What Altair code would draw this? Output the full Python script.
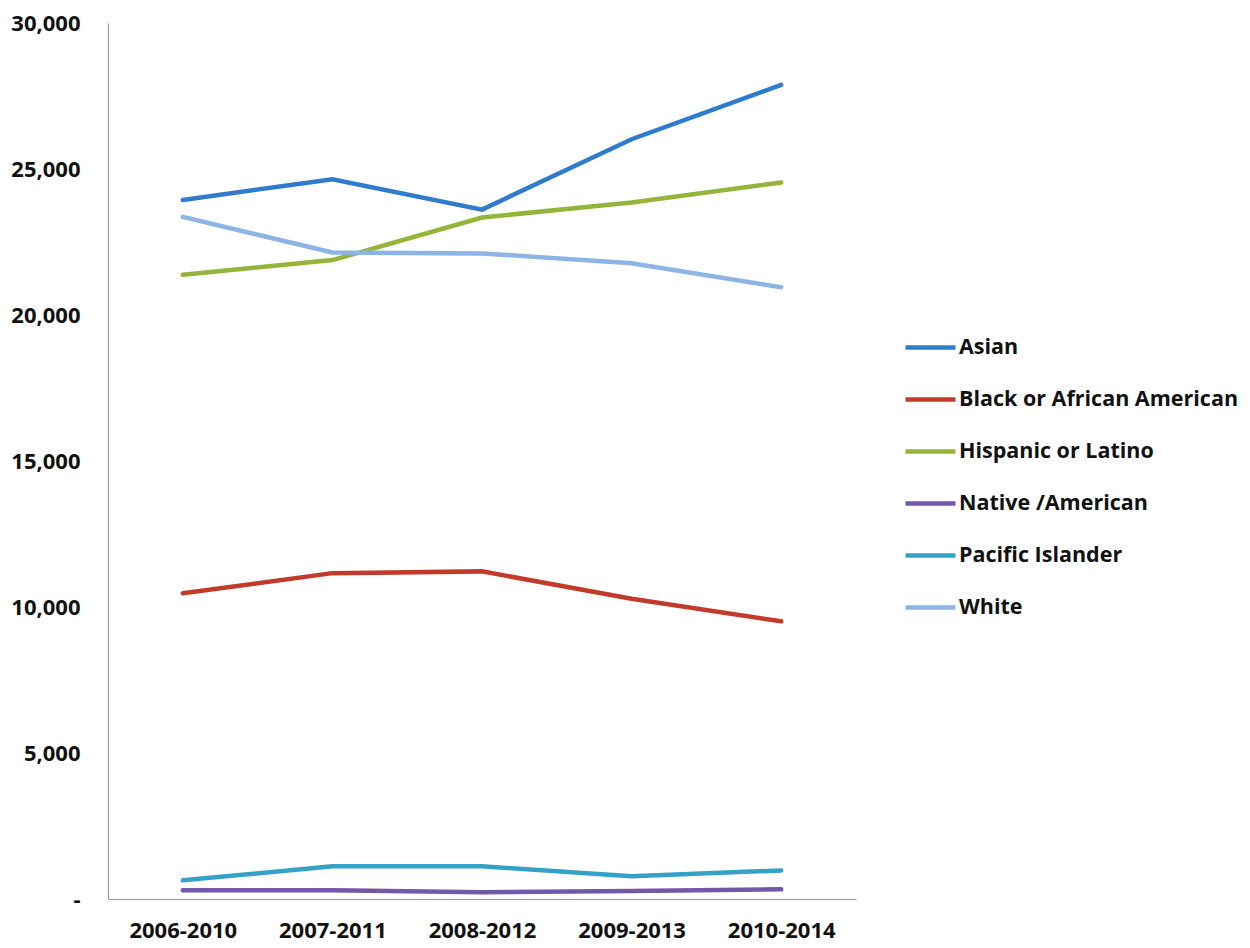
import altair as alt
import pandas as pd

periods = ["2006-2010", "2007-2011", "2008-2012", "2009-2013", "2010-2014"]
groups = ["Asian", "Black or African American", "Hispanic or Latino",
          "Native /American", "Pacific Islander", "White"]
asian = [23940, 24650, 23610, 26020, 27880]
black = [10470, 11160, 11220, 10280, 9510]
hispanic = [21380, 21880, 23340, 23850, 24540]
native = [300, 300, 230, 270, 330]
pacific = [640, 1120, 1120, 780, 980]
white = [23360, 22140, 22110, 21770, 20950]
colors = ["#2f7ccc", "#c23b2a", "#95b53a", "#7357a8", "#34a2c8", "#8cb4e4"]

series = [asian, black, hispanic, native, pacific, white]
rows = []
for g, vals in zip(groups, series):
    for p, v in zip(periods, vals):
        rows.append({"period": p, "group": g, "value": v})
df = pd.DataFrame(rows)

FONT = "Open Sans"

chart = alt.Chart(df).mark_line(strokeWidth=4.5, strokeCap="round").encode(
    x=alt.X("period:N", sort=periods, title=None,
            scale=alt.Scale(paddingOuter=0.5, paddingInner=0),
            axis=alt.Axis(labelAngle=0, ticks=False, labelPadding=21,
                          labelFont=FONT, labelFontSize=22, labelFontWeight="bold",
                          labelColor="#111", domainColor="#999", domainWidth=1.2,
                          grid=False)),
    y=alt.Y("value:Q", title=None,
            scale=alt.Scale(domain=[0, 30000], nice=False),
            axis=alt.Axis(values=[0, 5000, 10000, 15000, 20000, 25000, 30000],
                          labelExpr="datum.value == 0 ? '-\u00a0\u00a0\u00a0' : format(datum.value, ',')",
                          ticks=False, labelPadding=28, grid=False,
                          labelFont=FONT, labelFontSize=22, labelFontWeight="bold",
                          labelColor="#111", domainColor="#999", domainWidth=1.2)),
    color=alt.Color("group:N", sort=groups, title=None,
                    scale=alt.Scale(domain=groups, range=colors),
                    legend=alt.Legend(orient="none", legendX=795, legendY=297,
                                      symbolType="stroke", symbolSize=2500,
                                      symbolStrokeWidth=4.5, labelFont=FONT,
                                      labelFontSize=21.5, labelFontWeight="bold",
                                      labelColor="#111", rowPadding=14,
                                      labelOffset=1, padding=0, labelLimit=400)),
).properties(
    width=748, height=876,
    background="white",
    autosize=alt.AutoSizeParams(type="none"),
    padding={"left": 100, "top": 15, "right": 386, "bottom": 49},
).configure_view(stroke=None)

chart.save("out.html", embed_options={"renderer": "svg", "actions": False})
